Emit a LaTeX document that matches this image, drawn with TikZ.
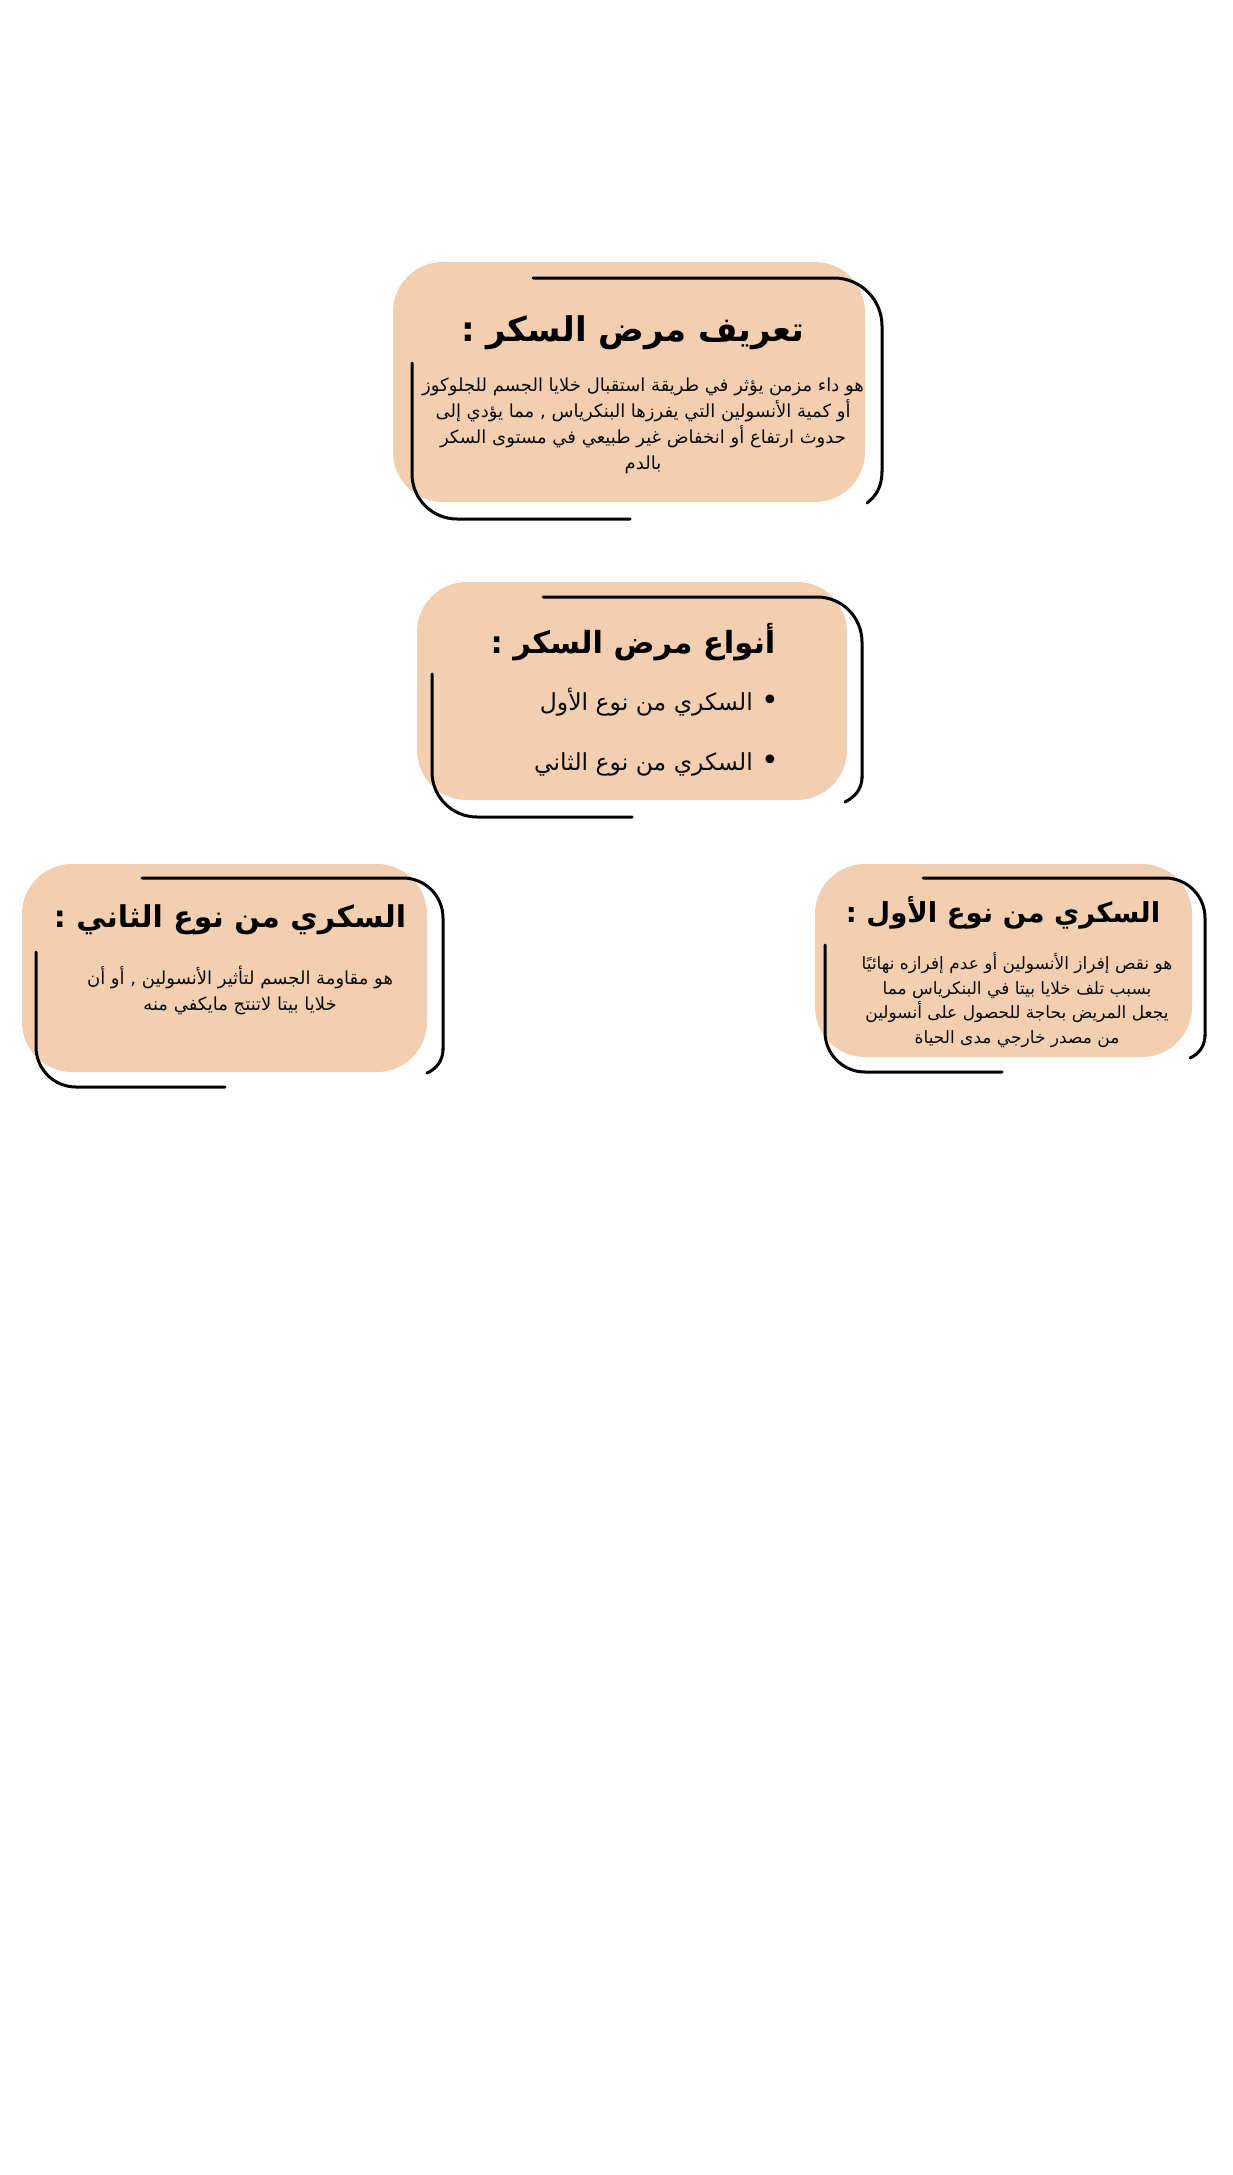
\documentclass[tikz,border=0pt]{standalone}
\usepackage{fontspec}
\usepackage{xcolor}
\usepackage{tikz}
\newfontfamily\arabicfont[Script=Arabic]{DejaVu Sans}
\TeXXeTstate=1
\definecolor{peach}{RGB}{243, 207, 177}
\definecolor{inkblack}{RGB}{12, 12, 12}
\newcommand{\rtl}[1]{\beginR #1\endR}
\newcommand{\bigbullet}{{\fontsize{30}{30}\selectfont •}\hspace{9pt}}

\begin{document}
\begin{tikzpicture}[
        x=1pt, y=-1pt,
        every node/.style={font=\arabicfont},
        card/.style={rectangle, rounded corners=50pt, fill=peach, inner sep=0pt},
        cardframe/.style={draw=black, line width=3pt, line cap=round},
        cardtitle/.style={font=\arabicfont\bfseries\fontsize{30}{36}\selectfont, align=center},
        cardtext/.style={font=\arabicfont\fontsize{18}{26}\selectfont, align=center, text=inkblack},
    ]

        % Page
        \fill[white] (0,0) rectangle (1233,2175);
        \useasboundingbox (0,0) rectangle (1233,2175);

        % Definition card
        \node[card, minimum width=472pt, minimum height=240pt] at (629,382) (definition) {};
        \draw[cardframe, rounded corners=48pt] (533,278) -- (882,278) -- (882,472);
        \draw[cardframe] (882,471) .. controls (882,487) and (876,496) .. (867,503);
        \draw[cardframe, rounded corners=45pt] (412,363) -- (412,519) -- (630,519);
        \node[cardtitle, font=\arabicfont\bfseries\fontsize{34}{40}\selectfont] at (633,333) (definitiontitle) {\rtl{تعريف مرض السكر :}};
        \node[cardtext] at (643,426) (definitiontext) {\rtl{هو داء مزمن يؤثر في طريقة استقبال خلايا الجسم للجلوكوز}\\\rtl{أو كمية الأنسولين التي يفرزها البنكرياس , مما يؤدي إلى}\\\rtl{حدوث ارتفاع أو انخفاض غير طبيعي في مستوى السكر}\\\rtl{بالدم}};

        % Types card
        \node[card, minimum width=430pt, minimum height=218pt] at (632,691) (types) {};
        \draw[cardframe, rounded corners=45pt] (543,597) -- (862,597) -- (862,778);
        \draw[cardframe] (862,777) .. controls (862,789) and (855,797) .. (845,802);
        \draw[cardframe, rounded corners=45pt] (432,674) -- (432,817) -- (632,817);
        \node[cardtitle, font=\arabicfont\bfseries\fontsize{30.5}{36}\selectfont] at (633,642) (typestitle) {\rtl{أنواع مرض السكر :}};
        \node[cardtext, font=\arabicfont\fontsize{23.5}{60}\selectfont, align=right, anchor=east] at (783,732) (typeslist) {\rtl{\bigbullet السكري من نوع الأول}\\\rtl{\bigbullet السكري من نوع الثاني}};

        % Type two card
        \node[card, minimum width=405pt, minimum height=208pt] at (224.5,968) (typetwo) {};
        \draw[cardframe, rounded corners=40pt] (142,878) -- (443,878) -- (443,1050);
        \draw[cardframe] (443,1049) .. controls (443,1061) and (436,1069) .. (427,1073);
        \draw[cardframe, rounded corners=40pt] (36,952) -- (36,1087) -- (225,1087);
        \node[cardtitle] at (230,920) (typetwotitle) {\rtl{السكري من نوع الثاني :}};
        \node[cardtext] at (240,990) (typetwotext) {\rtl{هو مقاومة الجسم لتأثير الأنسولين , أو أن}\\\rtl{خلايا بيتا لاتنتج مايكفي منه}};

        % Type one card
        \node[card, minimum width=377pt, minimum height=193pt] at (1003.5,960.5) (typeone) {};
        \draw[cardframe, rounded corners=40pt] (923,878) -- (1205,878) -- (1205,1036);
        \draw[cardframe] (1205,1035) .. controls (1205,1046) and (1199,1054) .. (1190,1058);
        \draw[cardframe, rounded corners=40pt] (825,945) -- (825,1072) -- (1002,1072);
        \node[cardtitle, font=\arabicfont\bfseries\fontsize{27.5}{34}\selectfont] at (1003,913) (typeonetitle) {\rtl{السكري من نوع الأول :}};
        \node[cardtext, font=\arabicfont\fontsize{17}{24.5}\selectfont] at (1017,1000) (typeonetext) {\rtl{هو نقص إفراز الأنسولين أو عدم إفرازه نهائيًا}\\\rtl{بسبب تلف خلايا بيتا في البنكرياس مما}\\\rtl{يجعل المريض بحاجة للحصول على أنسولين}\\\rtl{من مصدر خارجي مدى الحياة}};

\end{tikzpicture}
\end{document}
